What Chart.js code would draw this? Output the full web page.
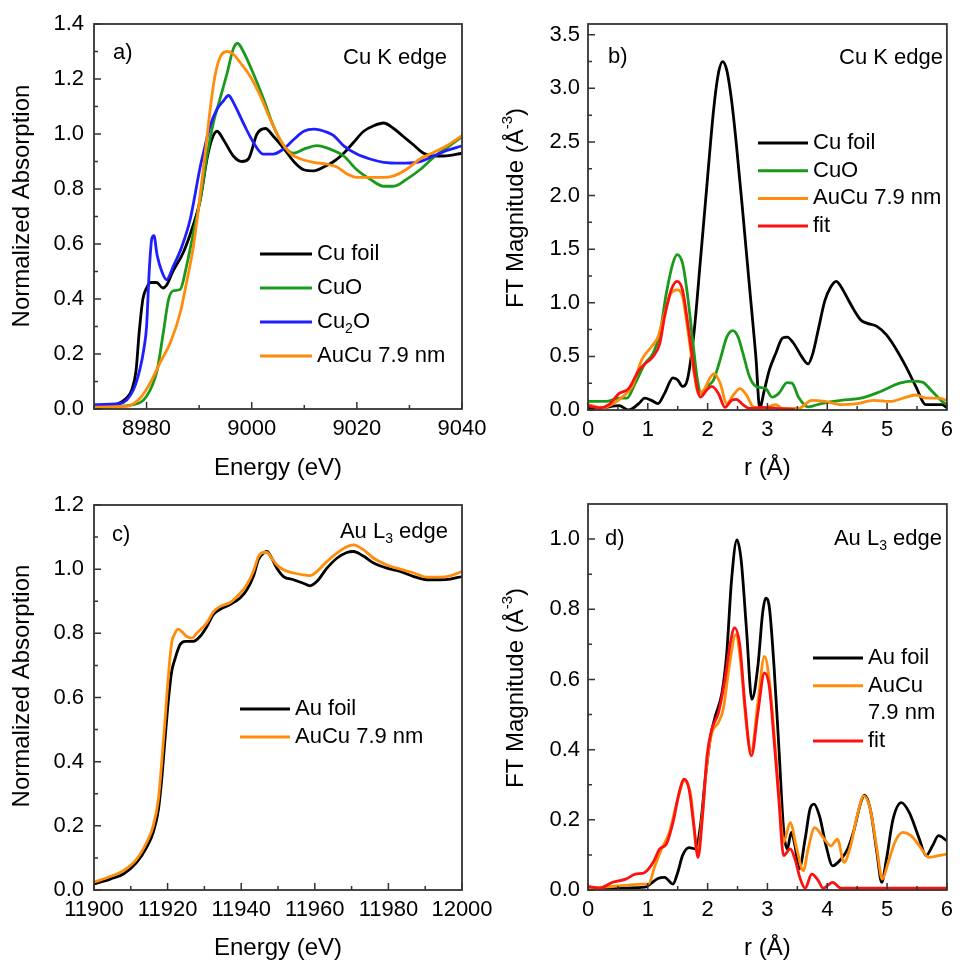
<!DOCTYPE html>
<html><head><meta charset="utf-8">
<script src="https://cdn.jsdelivr.net/npm/chart.js@4.4.0/dist/chart.umd.min.js"></script>
<style>
html,body{margin:0;padding:0;background:#fff;}
#wrap{position:relative;width:960px;height:960px;overflow:hidden;background:#fff;}
canvas{position:absolute;}
</style></head><body>
<div id="wrap">
<canvas id="ca" width="500" height="480" style="left:0;top:0;width:500px;height:480px"></canvas>
<canvas id="cb" width="480" height="480" style="left:480px;top:0;width:480px;height:480px"></canvas>
<canvas id="cc" width="500" height="480" style="left:0;top:480px;width:500px;height:480px"></canvas>
<canvas id="cd" width="480" height="480" style="left:480px;top:480px;width:480px;height:480px"></canvas>
</div>
<script>
// ---------- Panel a: Cu K edge XANES ----------
const aSeries = ['Cu foil', 'CuO', 'Cu_{2}O', 'AuCu 7.9 nm'];
const aX_CuFoil = [8970, 8974, 8976.2, 8977.2, 8978, 8978.6, 8979.3, 8980, 8980.8, 8981.9, 8983.1, 8983.8, 8985, 8987, 8988.9, 8990.2, 8991.5, 8992.4, 8993.4, 8994.6, 8996.5, 8998.1, 8999.4, 9001, 9002.6, 9004.2, 9006, 9008, 9009.9, 9011.8, 9013.7, 9015.6, 9017.5, 9019.4, 9021.3, 9023.2, 9025.1, 9027, 9028.9, 9030.8, 9032.7, 9034.6, 9036.5, 9040];
const aCuFoil = [0.005, 0.015, 0.04, 0.07, 0.14, 0.28, 0.40, 0.44, 0.46, 0.46, 0.44, 0.45, 0.5, 0.57, 0.67, 0.76, 0.91, 0.98, 1.01, 0.98, 0.92, 0.90, 0.91, 1.0, 1.02, 0.99, 0.95, 0.90, 0.87, 0.866, 0.88, 0.90, 0.93, 0.97, 1.01, 1.03, 1.04, 1.02, 0.99, 0.96, 0.93, 0.92, 0.92, 0.93];
const aX_CuO = [8970, 8977.5, 8980, 8982, 8983.2, 8984.2, 8985.1, 8986.4, 8987.6, 8988.9, 8990.2, 8991.5, 8992.7, 8994, 8995.3, 8996.5, 8997.3, 8998.4, 9000.3, 9002.2, 9004.1, 9006, 9008, 9009.9, 9012.4, 9014.9, 9017.5, 9020, 9022.5, 9025.1, 9027, 9029.5, 9032, 9034.6, 9037.1, 9040];
const aCuO = [0.005, 0.016, 0.046, 0.14, 0.28, 0.40, 0.43, 0.435, 0.52, 0.64, 0.76, 0.92, 1.04, 1.13, 1.22, 1.31, 1.33, 1.30, 1.22, 1.13, 1.03, 0.96, 0.93, 0.945, 0.958, 0.945, 0.92, 0.87, 0.836, 0.81, 0.81, 0.836, 0.87, 0.915, 0.95, 0.99];
const aX_Cu2O = [8970, 8975, 8977.5, 8978.8, 8979.5, 8980, 8980.5, 8981, 8981.4, 8982, 8982.9, 8983.8, 8985.1, 8986.7, 8988.3, 8990.2, 8990.8, 8992.1, 8993.4, 8994.6, 8995.6, 8996.5, 8998.4, 9000.3, 9002.2, 9004.1, 9006, 9008, 9009.9, 9011.8, 9014.4, 9015.6, 9017.5, 9020, 9022.5, 9025.1, 9028.3, 9031.4, 9034.6, 9037.1, 9040];
const aCu2O = [0.016, 0.02, 0.07, 0.15, 0.22, 0.30, 0.50, 0.62, 0.63, 0.56, 0.50, 0.47, 0.52, 0.59, 0.69, 0.88, 0.93, 1.03, 1.09, 1.12, 1.14, 1.115, 1.04, 0.97, 0.927, 0.927, 0.945, 0.98, 1.01, 1.018, 1.006, 0.994, 0.957, 0.927, 0.909, 0.897, 0.894, 0.897, 0.92, 0.94, 0.957];
const aX_AuCu = [8970, 8976.2, 8978.8, 8980.7, 8982.6, 8984.5, 8986.4, 8987.6, 8988.9, 8990.2, 8991.1, 8992.1, 8993, 8994, 8995.3, 8996.5, 8997.8, 8999.7, 9001.6, 9003.5, 9005.4, 9007.3, 9009.2, 9011.8, 9014.4, 9016.2, 9018.2, 9020, 9022.5, 9025.1, 9027, 9029.5, 9032, 9034.6, 9037.1, 9040];
const aAuCu = [0.007, 0.01, 0.04, 0.095, 0.17, 0.24, 0.35, 0.46, 0.59, 0.78, 0.92, 1.09, 1.21, 1.28, 1.30, 1.29, 1.26, 1.21, 1.14, 1.055, 0.98, 0.93, 0.91, 0.897, 0.89, 0.88, 0.854, 0.842, 0.842, 0.842, 0.848, 0.872, 0.909, 0.933, 0.957, 0.994];
const aXTicks = [8980, 9000, 9020, 9040];
const aXMinor = [8970, 8990, 9010, 9030];
const aYTicks = [0, 0.2, 0.4, 0.6, 0.8, 1.0, 1.2, 1.4];
const aYMinor = [0.1, 0.3, 0.5, 0.7, 0.9, 1.1, 1.3];

// ---------- Panel b: Cu K edge FT ----------
const bSeries = ['Cu foil', 'CuO', 'AuCu 7.9 nm', 'fit'];
const bX_CuFoil = [0, 0.19, 0.52, 0.68, 0.85, 0.95, 1.06, 1.17, 1.28, 1.42, 1.5, 1.58, 1.66, 1.77, 1.88, 1.99, 2.1, 2.18, 2.25, 2.32, 2.4, 2.48, 2.59, 2.7, 2.81, 2.87, 2.95, 3.03, 3.14, 3.25, 3.33, 3.44, 3.57, 3.68, 3.76, 3.85, 3.96, 4.06, 4.15, 4.23, 4.34, 4.45, 4.56, 4.66, 4.83, 4.99, 5.16, 5.32, 5.48, 5.65, 5.76, 5.92, 6];
const bCuFoil = [0.02, 0.02, 0.04, 0.0, 0.06, 0.11, 0.09, 0.06, 0.155, 0.3, 0.28, 0.22, 0.28, 0.71, 1.40, 2.11, 2.80, 3.14, 3.25, 3.17, 2.89, 2.48, 1.83, 1.15, 0.47, 0.02, 0.19, 0.37, 0.53, 0.67, 0.68, 0.62, 0.50, 0.43, 0.53, 0.75, 1.02, 1.15, 1.20, 1.15, 1.04, 0.93, 0.84, 0.81, 0.78, 0.70, 0.56, 0.40, 0.22, 0.05, 0.05, 0.05, 0.02];
const bX_CuO = [0, 0.3, 0.52, 0.65, 0.79, 0.95, 1.09, 1.2, 1.31, 1.42, 1.49, 1.58, 1.66, 1.75, 1.83, 1.89, 1.99, 2.1, 2.21, 2.32, 2.42, 2.51, 2.59, 2.7, 2.81, 2.97, 3.08, 3.19, 3.33, 3.41, 3.52, 3.68, 3.9, 4.23, 4.56, 4.88, 5.21, 5.43, 5.59, 5.76, 5.92, 6];
const bCuO = [0.08, 0.08, 0.11, 0.11, 0.25, 0.43, 0.53, 0.71, 1.09, 1.37, 1.45, 1.37, 1.09, 0.65, 0.28, 0.155, 0.22, 0.28, 0.47, 0.68, 0.74, 0.68, 0.53, 0.31, 0.22, 0.20, 0.12, 0.155, 0.255, 0.25, 0.12, 0.03, 0.06, 0.09, 0.11, 0.17, 0.25, 0.27, 0.26, 0.17, 0.08, 0.05];
const bX_AuCu = [0, 0.25, 0.41, 0.57, 0.74, 0.9, 1.06, 1.17, 1.28, 1.39, 1.49, 1.58, 1.66, 1.75, 1.85, 1.94, 2.05, 2.11, 2.21, 2.32, 2.43, 2.54, 2.65, 2.76, 2.92, 3.14, 3.25, 3.52, 3.74, 3.96, 4.23, 4.5, 4.77, 5.05, 5.32, 5.48, 5.65, 5.86, 6];
const bAuCu = [0.05, 0.02, 0.055, 0.12, 0.22, 0.47, 0.59, 0.68, 0.90, 1.09, 1.12, 1.06, 0.78, 0.43, 0.155, 0.19, 0.31, 0.34, 0.25, 0.06, 0.14, 0.20, 0.14, 0.03, 0.015, 0.05, 0.015, 0.015, 0.09, 0.08, 0.05, 0.06, 0.09, 0.08, 0.12, 0.14, 0.11, 0.11, 0.09];
const bX_Fit = [0, 0.19, 0.35, 0.52, 0.68, 0.85, 0.95, 1.09, 1.2, 1.28, 1.39, 1.49, 1.58, 1.66, 1.75, 1.83, 1.88, 1.99, 2.07, 2.18, 2.29, 2.4, 2.48, 2.59, 2.7, 2.92, 3.14, 3.46];
const bFit = [0.04, 0.02, 0.05, 0.155, 0.2, 0.37, 0.43, 0.50, 0.62, 0.87, 1.12, 1.20, 1.12, 0.84, 0.47, 0.19, 0.12, 0.19, 0.22, 0.155, 0.025, 0.09, 0.10, 0.05, 0.015, 0.025, 0.015, 0.005];
const bXTicks = [0, 1, 2, 3, 4, 5, 6];
const bXMinor = [0.5, 1.5, 2.5, 3.5, 4.5, 5.5];
const bYTicks = [0, 0.5, 1.0, 1.5, 2.0, 2.5, 3.0, 3.5];
const bYMinor = [0.25, 0.75, 1.25, 1.75, 2.25, 2.75, 3.25];

// ---------- Panel c: Au L3 edge XANES ----------
const cSeries = ['Au foil', 'AuCu 7.9 nm'];
const cX_AuFoil = [11900, 11904.4, 11908, 11911.6, 11914.3, 11916.1, 11917.5, 11918.4, 11919.3, 11920.2, 11921.1, 11922, 11923.4, 11924.8, 11927, 11928.8, 11930.6, 11932.5, 11934.3, 11937, 11939.7, 11941.5, 11943.3, 11944.7, 11946.1, 11947, 11948.3, 11949.7, 11951.5, 11954.2, 11956.9, 11958.7, 11960.6, 11963.3, 11966, 11968.7, 11970.5, 11973.3, 11976, 11979.6, 11983.2, 11986.9, 11990.5, 11994.1, 11996.8, 12000];
const cAuFoil = [0.019, 0.034, 0.05, 0.086, 0.133, 0.18, 0.25, 0.345, 0.47, 0.59, 0.68, 0.72, 0.765, 0.775, 0.775, 0.79, 0.82, 0.86, 0.875, 0.89, 0.91, 0.935, 0.977, 1.03, 1.05, 1.055, 1.034, 1.003, 0.977, 0.967, 0.956, 0.948, 0.962, 1.003, 1.034, 1.052, 1.055, 1.04, 1.019, 1.003, 0.993, 0.977, 0.967, 0.967, 0.969, 0.977];
const cX_AuCu = [11900, 11904.4, 11908, 11911.6, 11914.3, 11916.1, 11917.5, 11918.4, 11919.3, 11920.2, 11921.1, 11922, 11922.9, 11923.8, 11925.2, 11926.6, 11927.9, 11930.6, 11932.5, 11934.3, 11937, 11939.7, 11941.5, 11943.3, 11944.7, 11946.1, 11947, 11948.3, 11949.7, 11951.5, 11954.2, 11956.9, 11958.7, 11960.6, 11963.3, 11966, 11968.7, 11970.5, 11973.3, 11976, 11979.6, 11983.2, 11986.9, 11990.5, 11994.1, 11996.8, 12000];
const cAuCu = [0.024, 0.042, 0.06, 0.096, 0.148, 0.2, 0.283, 0.397, 0.53, 0.666, 0.77, 0.80, 0.813, 0.806, 0.79, 0.785, 0.80, 0.832, 0.868, 0.884, 0.896, 0.925, 0.951, 0.993, 1.039, 1.052, 1.052, 1.034, 1.013, 0.998, 0.988, 0.982, 0.980, 0.993, 1.024, 1.05, 1.07, 1.076, 1.06, 1.034, 1.013, 1.0, 0.988, 0.975, 0.975, 0.979, 0.993];
const cXTicks = [11900, 11920, 11940, 11960, 11980, 12000];
const cXMinor = [11910, 11930, 11950, 11970, 11990];
const cYTicks = [0, 0.2, 0.4, 0.6, 0.8, 1.0, 1.2];
const cYMinor = [0.1, 0.3, 0.5, 0.7, 0.9, 1.1];

// ---------- Panel d: Au L3 edge FT ----------
const dSeries = ['Au foil', 'AuCu\n7.9 nm', 'fit'];
const dX_AuFoil = [0, 0.41, 0.95, 1.04, 1.17, 1.28, 1.42, 1.5, 1.58, 1.69, 1.8, 1.88, 1.96, 2.05, 2.13, 2.24, 2.32, 2.4, 2.49, 2.56, 2.65, 2.74, 2.84, 2.92, 2.97, 3.03, 3.11, 3.19, 3.27, 3.33, 3.4, 3.46, 3.53, 3.63, 3.71, 3.78, 3.87, 3.98, 4.09, 4.23, 4.34, 4.45, 4.56, 4.62, 4.72, 4.83, 4.91, 4.99, 5.1, 5.24, 5.37, 5.54, 5.65, 5.76, 5.86, 6];
const dAuFoil = [0.008, 0.005, 0.008, 0.017, 0.033, 0.036, 0.017, 0.05, 0.098, 0.121, 0.117, 0.183, 0.316, 0.439, 0.496, 0.562, 0.676, 0.884, 0.998, 0.941, 0.742, 0.543, 0.638, 0.79, 0.832, 0.808, 0.638, 0.41, 0.173, 0.117, 0.164, 0.126, 0.06, 0.145, 0.23, 0.245, 0.211, 0.126, 0.069, 0.088, 0.117, 0.173, 0.249, 0.27, 0.23, 0.107, 0.022, 0.088, 0.202, 0.249, 0.221, 0.145, 0.098, 0.126, 0.155, 0.14];
const dX_AuCu = [0, 0.41, 0.68, 0.9, 1.01, 1.12, 1.23, 1.36, 1.5, 1.61, 1.72, 1.83, 1.91, 1.99, 2.07, 2.18, 2.26, 2.37, 2.47, 2.56, 2.65, 2.73, 2.84, 2.95, 3.03, 3.11, 3.19, 3.27, 3.38, 3.49, 3.6, 3.68, 3.79, 3.93, 4.06, 4.17, 4.28, 4.39, 4.5, 4.61, 4.72, 4.83, 4.92, 5.02, 5.13, 5.26, 5.4, 5.54, 5.7, 5.86, 6];
const dAuCu = [0.005, 0.01, 0.014, 0.017, 0.017, 0.069, 0.117, 0.164, 0.259, 0.311, 0.268, 0.107, 0.211, 0.363, 0.448, 0.477, 0.515, 0.647, 0.728, 0.638, 0.467, 0.396, 0.534, 0.666, 0.6, 0.448, 0.278, 0.136, 0.192, 0.117, 0.055, 0.117, 0.178, 0.15, 0.126, 0.145, 0.079, 0.126, 0.211, 0.268, 0.23, 0.117, 0.031, 0.079, 0.136, 0.164, 0.155, 0.126, 0.093, 0.098, 0.102];
const dX_Fit = [0, 0.19, 0.41, 0.63, 0.79, 0.95, 1.09, 1.2, 1.31, 1.42, 1.53, 1.61, 1.69, 1.77, 1.84, 1.91, 1.99, 2.07, 2.18, 2.29, 2.38, 2.45, 2.54, 2.62, 2.73, 2.84, 2.95, 3.03, 3.11, 3.19, 3.27, 3.38, 3.46, 3.55, 3.63, 3.74, 3.85, 3.93, 4.09, 4.23, 4.77, 6];
const dFit = [0.01, 0.005, 0.022, 0.031, 0.045, 0.05, 0.079, 0.117, 0.131, 0.192, 0.282, 0.316, 0.287, 0.183, 0.093, 0.202, 0.382, 0.458, 0.505, 0.6, 0.704, 0.747, 0.695, 0.534, 0.382, 0.505, 0.619, 0.581, 0.429, 0.259, 0.098, 0.117, 0.088, 0.031, 0.005, 0.045, 0.027, 0.005, 0.022, 0.005, 0.005, 0.005];
const dXTicks = [0, 1, 2, 3, 4, 5, 6];
const dXMinor = [0.5, 1.5, 2.5, 3.5, 4.5, 5.5];
const dYTicks = [0, 0.2, 0.4, 0.6, 0.8, 1.0];
const dYMinor = [0.1, 0.3, 0.5, 0.7, 0.9];

// ---------- helpers ----------
const FONT = '"Liberation Sans", Arial, Helvetica, sans-serif';
const BLACK = '#000000', GREEN = '#1a9a1a', BLUE = '#1e1eff', ORANGE = '#ff8c0a', RED = '#ff1010';

function pts(xs, ys) { return xs.map((x, i) => ({ x: x, y: ys[i] })); }

function parseRich(s) {
  const out = []; let i = 0, buf = '';
  while (i < s.length) {
    const c = s[i];
    if ((c === '_' || c === '^') && s[i + 1] === '{') {
      if (buf) { out.push({ t: buf, k: 0 }); buf = ''; }
      const j = s.indexOf('}', i);
      out.push({ t: s.slice(i + 2, j), k: c === '_' ? 1 : 2 });
      i = j + 1;
    } else { buf += c; i++; }
  }
  if (buf) out.push({ t: buf, k: 0 });
  return out;
}
function drawRich(ctx, s, x, y, size, align) {
  const parts = parseRich(s);
  const small = Math.round(size * 0.62);
  let w = 0;
  for (const p of parts) { ctx.font = (p.k ? small : size) + 'px ' + FONT; w += ctx.measureText(p.t).width; }
  let cx = align === 'center' ? x - w / 2 : align === 'right' ? x - w : x;
  ctx.textBaseline = 'middle'; ctx.textAlign = 'left';
  for (const p of parts) {
    ctx.font = (p.k ? small : size) + 'px ' + FONT;
    const dy = p.k === 1 ? size * 0.32 : p.k === 2 ? -size * 0.36 : 0;
    ctx.fillText(p.t, cx, y + dy);
    cx += ctx.measureText(p.t).width;
  }
}

const framePlugin = {
  id: 'frame',
  afterDraw(chart, args, o) {
    const ctx = chart.ctx, ca = chart.chartArea;
    const xs = chart.scales.x, ys = chart.scales.y;
    ctx.save();
    ctx.strokeStyle = '#333'; ctx.lineWidth = 1.5;
    ctx.beginPath();
    for (const v of o.xMajor) { const p = xs.getPixelForValue(v); ctx.moveTo(p, ca.bottom); ctx.lineTo(p, ca.bottom - 7); }
    for (const v of o.xMinor) { const p = xs.getPixelForValue(v); ctx.moveTo(p, ca.bottom); ctx.lineTo(p, ca.bottom - 4); }
    for (const v of o.yMajor) { const p = ys.getPixelForValue(v); ctx.moveTo(ca.left, p); ctx.lineTo(ca.left + 7, p); }
    for (const v of o.yMinor) { const p = ys.getPixelForValue(v); ctx.moveTo(ca.left, p); ctx.lineTo(ca.left + 4, p); }
    ctx.stroke();
    ctx.lineWidth = 1.8; ctx.strokeStyle = '#333';
    ctx.strokeRect(ca.left, ca.top, ca.right - ca.left, ca.bottom - ca.top);
    ctx.fillStyle = '#000';
    drawRich(ctx, o.xTitle, (ca.left + ca.right) / 2, o.xTitleY, 24, 'center');
    ctx.save(); ctx.translate(o.yTitleX, o.yTitleY); ctx.rotate(-Math.PI / 2);
    drawRich(ctx, o.yTitle, 0, 0, 24, 'center'); ctx.restore();
    drawRich(ctx, o.tag[0], o.tag[1], o.tag[2], 22, 'left');
    drawRich(ctx, o.edge[0], o.edge[1], o.edge[2], 22, 'right');
    const L = o.legend; let y = L.y;
    chart.data.datasets.forEach(ds => {
      ctx.strokeStyle = ds.borderColor; ctx.lineWidth = 3;
      ctx.beginPath(); ctx.moveTo(L.x0, y); ctx.lineTo(L.x1, y); ctx.stroke();
      ctx.fillStyle = '#000';
      const lines = ds.label.split('\n');
      lines.forEach((ln, k) => { drawRich(ctx, ln, L.tx, y + k * L.dy, 22, 'left'); });
      y += L.dy * lines.length;
    });
    ctx.restore();
  }
};

function makeChart(id, cfg) {
  const n = cfg.series.length;
  return new Chart(document.getElementById(id), {
    type: 'line',
    data: {
      datasets: cfg.series.map((s, i) => ({
        label: s.label, data: s.data, borderColor: s.color, backgroundColor: s.color,
        borderWidth: 2.8, pointRadius: 0, fill: false, cubicInterpolationMode: 'monotone', order: n - i
      }))
    },
    options: {
      responsive: false, animation: false, devicePixelRatio: 1,
      layout: { autoPadding: false, padding: { left: 0, top: cfg.padTop, right: cfg.padRight, bottom: 0 } },
      plugins: { legend: { display: false }, tooltip: { enabled: false }, frame: cfg.frame },
      scales: {
        x: {
          type: 'linear', min: cfg.xMin, max: cfg.xMax,
          afterBuildTicks: s => { s.ticks = cfg.frame.xMajor.map(v => ({ value: v })); },
          afterFit: s => { s.height = cfg.xAxisH; },
          grid: { display: false, drawTicks: false }, border: { display: false },
          ticks: { font: { family: FONT, size: 22 }, color: '#000', padding: 7, maxRotation: 0, autoSkip: false,
                   callback: v => cfg.xFmt(v) }
        },
        y: {
          type: 'linear', min: cfg.yMin, max: cfg.yMax,
          afterBuildTicks: s => { s.ticks = cfg.frame.yMajor.map(v => ({ value: v })); },
          afterFit: s => { s.width = cfg.yAxisW; },
          grid: { display: false, drawTicks: false }, border: { display: false },
          ticks: { font: { family: FONT, size: 22 }, color: '#000', padding: cfg.yPad, autoSkip: false,
                   callback: v => v.toFixed(1) }
        }
      }
    },
    plugins: [framePlugin]
  });
}

makeChart('ca', {
  series: [
    { label: aSeries[0], data: pts(aX_CuFoil, aCuFoil), color: BLACK },
    { label: aSeries[1], data: pts(aX_CuO, aCuO), color: GREEN },
    { label: aSeries[2], data: pts(aX_Cu2O, aCu2O), color: BLUE },
    { label: aSeries[3], data: pts(aX_AuCu, aAuCu), color: ORANGE }
  ],
  xMin: 8970, xMax: 9040, yMin: 0, yMax: 1.4,
  padTop: 24, padRight: 38, xAxisH: 71, yAxisW: 94, yPad: 10, xFmt: v => String(v),
  frame: {
    xMajor: aXTicks, xMinor: aXMinor, yMajor: aYTicks, yMinor: aYMinor,
    xTitle: 'Energy (eV)', xTitleY: 468, yTitle: 'Normalized Absorption', yTitleX: 22, yTitleY: 206,
    tag: ['a)', 113, 53], edge: ['Cu K edge', 447, 58],
    legend: { x0: 260, x1: 312, tx: 317, y: 254, dy: 34 }
  }
});

makeChart('cb', {
  series: [
    { label: bSeries[0], data: pts(bX_CuFoil, bCuFoil), color: BLACK },
    { label: bSeries[1], data: pts(bX_CuO, bCuO), color: GREEN },
    { label: bSeries[2], data: pts(bX_AuCu, bAuCu), color: ORANGE },
    { label: bSeries[3], data: pts(bX_Fit, bFit), color: RED }
  ],
  xMin: 0, xMax: 6, yMin: 0, yMax: 3.6,
  padTop: 24, padRight: 5, xAxisH: 70, yAxisW: 108, yPad: 8, xFmt: v => String(v),
  frame: {
    xMajor: bXTicks, xMinor: bXMinor, yMajor: bYTicks, yMinor: bYMinor,
    xTitle: 'r (\u00C5)', xTitleY: 468, yTitle: 'FT Magnitude (\u00C5^{-3})', yTitleX: 36, yTitleY: 208,
    tag: ['b)', 128, 57], edge: ['Cu K edge', 463, 58],
    legend: { x0: 278, x1: 328, tx: 333, y: 143, dy: 27.7 }
  }
});

makeChart('cc', {
  series: [
    { label: cSeries[0], data: pts(cX_AuFoil, cAuFoil), color: BLACK },
    { label: cSeries[1], data: pts(cX_AuCu, cAuCu), color: ORANGE }
  ],
  xMin: 11900, xMax: 12000, yMin: 0, yMax: 1.2,
  padTop: 25, padRight: 38, xAxisH: 70, yAxisW: 94, yPad: 10, xFmt: v => String(v),
  frame: {
    xMajor: cXTicks, xMinor: cXMinor, yMajor: cYTicks, yMinor: cYMinor,
    xTitle: 'Energy (eV)', xTitleY: 468, yTitle: 'Normalized Absorption', yTitleX: 22, yTitleY: 206,
    tag: ['c)', 112, 55], edge: ['Au L_{3} edge', 448, 52],
    legend: { x0: 240, x1: 290, tx: 295, y: 229, dy: 28 }
  }
});

makeChart('cd', {
  series: [
    { label: dSeries[0], data: pts(dX_AuFoil, dAuFoil), color: BLACK },
    { label: dSeries[1], data: pts(dX_AuCu, dAuCu), color: ORANGE },
    { label: dSeries[2], data: pts(dX_Fit, dFit), color: RED }
  ],
  xMin: 0, xMax: 6, yMin: 0, yMax: 1.1,
  padTop: 24, padRight: 5, xAxisH: 70, yAxisW: 108, yPad: 8, xFmt: v => String(v),
  frame: {
    xMajor: dXTicks, xMinor: dXMinor, yMajor: dYTicks, yMinor: dYMinor,
    xTitle: 'r (\u00C5)', xTitleY: 468, yTitle: 'FT Magnitude (\u00C5^{-3})', yTitleX: 36, yTitleY: 208,
    tag: ['d)', 125, 59], edge: ['Au L_{3} edge', 462, 59],
    legend: { x0: 333, x1: 383, tx: 388, y: 178, dy: 27.7 }
  }
});
</script>
</body></html>
